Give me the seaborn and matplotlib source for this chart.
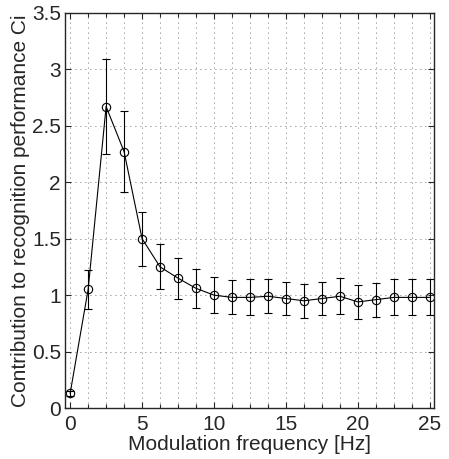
import matplotlib.pyplot as plt
import seaborn as sns
import numpy as np
import pandas as pd

# modulation frequencies (Hz) and contribution values
freq = [0, 1.25, 2.5, 3.75, 5, 6.25, 7.5, 8.75, 10, 11.25, 12.5, 13.75,
        15, 16.25, 17.5, 18.75, 20, 21.25, 22.5, 23.75, 25]
ci = [0.13, 1.05, 2.67, 2.27, 1.50, 1.25, 1.15, 1.06, 1.00, 0.98, 0.98, 0.99,
      0.97, 0.95, 0.97, 0.99, 0.94, 0.96, 0.98, 0.98, 0.98]
err = [0.02, 0.17, 0.42, 0.36, 0.24, 0.20, 0.18, 0.17, 0.16, 0.15, 0.16, 0.15,
       0.15, 0.15, 0.15, 0.16, 0.15, 0.15, 0.16, 0.16, 0.16]

df = pd.DataFrame({'freq': freq, 'ci': ci, 'err': err})

sns.set_style('ticks')
plt.rcParams['font.family'] = ['Liberation Sans', 'DejaVu Sans']

fig = plt.figure(figsize=(4.49, 4.59), dpi=100)
ax = fig.add_axes([0.145, 0.111, 0.822, 0.861])

ax.errorbar(df['freq'], df['ci'], yerr=df['err'], fmt='none', ecolor='black',
            elinewidth=0.8, capsize=3, capthick=0.8)
sns.lineplot(data=df, x='freq', y='ci', ax=ax, color='black', linewidth=0.8,
             marker='o', markersize=6, markerfacecolor='none',
             markeredgecolor='black', markeredgewidth=0.8)

ax.set_xlim(-0.35, 25.3)
ax.set_ylim(0, 3.5)
ax.set_xticks(np.arange(0, 26, 5))
ax.set_xticks(np.arange(0, 25.1, 1.25), minor=True)
ax.set_yticks(np.arange(0, 3.51, 0.5))
ax.set_yticklabels(['0', '0.5', '1', '1.5', '2', '2.5', '3', '3.5'])

# dotted grid, vertical lines at every data frequency
ax.grid(True, which='both', axis='x', linestyle=(0, (1, 5)), color='#444444', linewidth=0.6)
ax.grid(True, which='major', axis='y', linestyle=(0, (1, 5)), color='#444444', linewidth=0.6)

ax.tick_params(which='both', direction='in', top=True, right=True, labelsize=15, width=0.8)
ax.tick_params(which='major', length=4)
ax.tick_params(which='minor', length=3)
ax.tick_params(axis='x', pad=5)
ax.tick_params(axis='y', pad=3)
for s in ax.spines.values():
    s.set_linewidth(1.0)

ax.set_xlabel('Modulation frequency [Hz]', fontsize=15, labelpad=1)
ax.set_ylabel('Contribution to recognition performance Ci', fontsize=15, labelpad=1)

fig.savefig('out.png', dpi=100)
